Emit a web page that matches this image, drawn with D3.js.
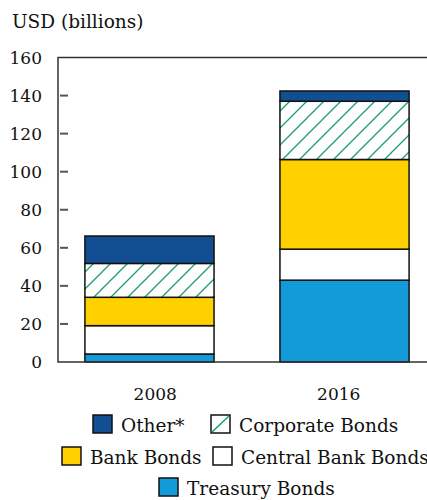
<!DOCTYPE html>
<html>
<head>
<meta charset="utf-8">
<script src="https://cdn.jsdelivr.net/npm/d3@7"></script>
<style>
  html, body { margin: 0; padding: 0; background: #fff; }
  svg { display: block; }
  text { font-family: "DejaVu Serif", serif; fill: #111; }
</style>
</head>
<body>
<svg id="chart" width="427" height="500"></svg>
<script>
// ---- data ----
const categories = ["2008", "2016"];
const seriesNames = ["Treasury Bonds", "Central Bank Bonds", "Bank Bonds", "Corporate Bonds", "Other*"];
const treasuryBonds = [4.2, 43.0];
const centralBankBonds = [14.9, 16.3];
const bankBonds = [14.9, 47.1];
const corporateBonds = [17.8, 30.6];
const otherBonds = [14.4, 5.4];
const yTicks = [0, 20, 40, 60, 80, 100, 120, 140, 160];
const yTitle = "USD (billions)";

// ---- styles ----
const colors = {
  "Treasury Bonds": "#129bd8",
  "Central Bank Bonds": "#ffffff",
  "Bank Bonds": "#ffd100",
  "Corporate Bonds": "url(#hatch)",
  "Other*": "#124e92"
};
const hatchGreen = "#17a06c";

const rows = categories.map((c, i) => ({
  category: c,
  "Treasury Bonds": treasuryBonds[i],
  "Central Bank Bonds": centralBankBonds[i],
  "Bank Bonds": bankBonds[i],
  "Corporate Bonds": corporateBonds[i],
  "Other*": otherBonds[i]
}));

const svg = d3.select("#chart");

// hatch pattern
const defs = svg.append("defs");
const pat = defs.append("pattern")
  .attr("id", "hatch")
  .attr("patternUnits", "userSpaceOnUse")
  .attr("width", 17).attr("height", 17);
pat.append("rect").attr("width", 17).attr("height", 17).attr("fill", "#fff");
pat.append("path")
  .attr("d", "M-1,18 L18,-1 M-9,9 L9,-9 M8,26 L26,8")
  .attr("stroke", hatchGreen).attr("stroke-width", 1.3);

// ---- scales ----
const plotLeft = 58, plotRight = 436, plotTop = 57.5, plotBottom = 362;
const y = d3.scaleLinear().domain([0, 160]).range([plotBottom, plotTop]);
const x = d3.scaleBand().domain(categories).range([plotLeft, plotRight])
  .paddingInner(0.338).paddingOuter(0.138);
const xLabel = d3.scalePoint().domain(categories).range([plotLeft, plotRight]).padding(0.53);

// y title
svg.append("text").attr("x", 12).attr("y", 28)
  .style("font-size", "18.5px").text(yTitle);

// y tick labels
svg.append("g").selectAll("text").data(yTicks).join("text")
  .attr("x", 42).attr("y", d => y(d)).attr("dy", "0.36em")
  .attr("text-anchor", "end")
  .style("font-size", "17px")
  .text(d => d);

// inner tick marks
svg.append("g").selectAll("line").data(yTicks.filter(d => d > 0 && d < 160)).join("line")
  .attr("x1", 60).attr("x2", 68)
  .attr("y1", d => y(d)).attr("y2", d => y(d))
  .attr("stroke", "#555").attr("stroke-width", 2);

// stacked bars
const stack = d3.stack().keys(seriesNames)(rows);
const layers = svg.append("g").selectAll("g").data(stack).join("g")
  .attr("fill", d => colors[d.key]);
layers.selectAll("rect").data(d => d).join("rect")
  .attr("x", d => x(d.data.category))
  .attr("width", x.bandwidth())
  .attr("y", d => y(d[1]))
  .attr("height", d => y(d[0]) - y(d[1]))
  .attr("stroke", "#111").attr("stroke-width", 1.5);

// frame (left, top, bottom; right side runs off the crop)
svg.append("path")
  .attr("d", `M${plotRight + 10},${plotTop} H${plotLeft} V${plotBottom} H${plotRight + 10}`)
  .attr("fill", "none").attr("stroke", "#333").attr("stroke-width", 1.5);

// x labels
svg.append("g").selectAll("text").data(categories).join("text")
  .attr("x", d => xLabel(d)).attr("y", 400)
  .attr("text-anchor", "middle")
  .style("font-size", "17px")
  .text(d => d);

// legend
const legendItems = [
  { name: "Other*", sx: 93, sy: 415 },
  { name: "Corporate Bonds", sx: 211, sy: 415 },
  { name: "Bank Bonds", sx: 62, sy: 447 },
  { name: "Central Bank Bonds", sx: 213, sy: 447 },
  { name: "Treasury Bonds", sx: 159, sy: 478 }
];
const lg = svg.append("g").selectAll("g").data(legendItems).join("g");
lg.append("rect")
  .attr("x", d => d.sx).attr("y", d => d.sy)
  .attr("width", 19).attr("height", 18)
  .attr("fill", d => d.name === "Corporate Bonds" ? "#fff" : colors[d.name])
  .attr("stroke", "#111").attr("stroke-width", 1.5);
lg.filter(d => d.name === "Corporate Bonds").append("line")
  .attr("x1", d => d.sx + 1).attr("y1", d => d.sy + 17)
  .attr("x2", d => d.sx + 18).attr("y2", d => d.sy + 1)
  .attr("stroke", hatchGreen).attr("stroke-width", 1.5);
lg.append("text")
  .attr("x", d => d.sx + 28).attr("y", d => d.sy + 16.5)
  .style("font-size", "18.5px")
  .text(d => d.name);
</script>
</body>
</html>
